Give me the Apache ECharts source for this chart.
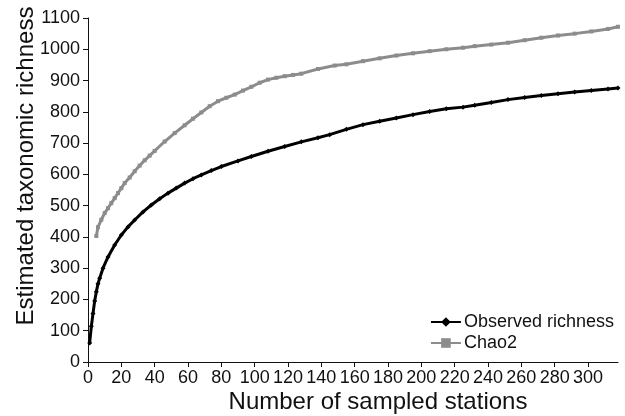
<!DOCTYPE html>
<html>
<head>
<meta charset="utf-8">
<title>Taxonomic richness</title>
<script src="https://cdn.jsdelivr.net/npm/echarts@6/dist/echarts.min.js"></script>
<style>
  html, body { margin: 0; padding: 0; background: #fff; }
  #main { width: 625px; height: 416px; }
</style>
</head>
<body>
<div id="main"></div>
<script>
// stations / values
var obsX = [1,2,3,4,5,6,7,9,12,16,20,24,28,33,38,43,48,53,58,63,68,74,80,90,98,108,118,128,138,145,155,165,175,185,195,205,215,225,232,242,252,262,272,282,292,302,312,318];
var obsY = [61,114,155,195,225,250,268,300,336,374,406,432,454,480,502,522,540,556,572,586,598,612,625,643,657,674,689,704,717,727,744,759,770,780,791,801,810,815,821,830,839,846,852,858,863,868,873,876];

var chaoX = [5,6,8,10,12,14,16,18,20,22,25,28,31,34,37,40,46,52,58,63,68,73,78,83,88,93,98,103,108,113,118,123,128,138,148,155,165,175,185,195,205,215,225,232,242,252,262,272,282,292,302,312,318];
var chaoY = [403,431,455,476,492,508,524,540,556,572,590,610,628,645,660,675,705,732,757,778,798,818,834,845,855,868,880,893,903,909,914,918,922,937,948,952,962,971,980,987,994,1000,1005,1010,1015,1021,1029,1037,1044,1050,1057,1065,1072];

var xTicks = [0,20,40,60,80,100,120,140,160,180,200,220,240,260,280,300];

function pairs(xs, ys) {
  var out = [];
  for (var i = 0; i < xs.length; i++) out.push([xs[i], ys[i]]);
  return out;
}

var font = 'Liberation Sans, Arial, Helvetica, sans-serif';
var chart = echarts.init(document.getElementById('main'));

var option = {
  animation: false,
  textStyle: { fontFamily: font },
  grid: { left: 88, right: 7, top: 18, bottom: 54, containLabel: false, outerBoundsMode: 'none' },
  legend: {
    orient: 'vertical',
    right: 6,
    top: 308,
    itemGap: 3,
    itemWidth: 30,
    itemHeight: 12,
    textStyle: { fontFamily: font, fontSize: 18, color: '#111', padding: [0, 0, 0, -2] },
    data: ['Observed richness', 'Chao2']
  },
  xAxis: {
    type: 'value',
    min: 0,
    max: 318,
    name: 'Number of sampled stations',
    nameLocation: 'middle',
    nameGap: 28,
    nameMoveOverlap: false,
    nameTextStyle: { fontFamily: font, fontSize: 24, color: '#111', padding: [0, 0, 0, 50] },
    axisLine: { lineStyle: { color: '#111', width: 1 } },
    axisTick: { show: true, length: 5, customValues: xTicks, lineStyle: { color: '#111' } },
    axisLabel: { customValues: xTicks, fontFamily: font, fontSize: 18, color: '#111', margin: 7 },
    splitLine: { show: false }
  },
  yAxis: {
    type: 'value',
    min: 0,
    max: 1100,
    interval: 100,
    name: 'Estimated taxonomic richness',
    nameLocation: 'middle',
    nameGap: 50,
    nameMoveOverlap: false,
    nameTextStyle: { fontFamily: font, fontSize: 24, color: '#111', padding: [0, 0, 0, 48] },
    axisLine: { show: true, lineStyle: { color: '#111', width: 1 } },
    axisTick: { show: true, length: 5, lineStyle: { color: '#111' } },
    axisLabel: {
      fontFamily: font, fontSize: 18, color: '#111', margin: 8,
      formatter: function (v) { return String(v); }
    },
    splitLine: { show: false }
  },
  series: [
    {
      name: 'Chao2',
      type: 'line',
      data: pairs(chaoX, chaoY),
      symbol: 'rect',
      symbolSize: 4,
      showSymbol: true,
      lineStyle: { color: '#8c8c8c', width: 3 },
      itemStyle: { color: '#8c8c8c' }
    },
    {
      name: 'Observed richness',
      type: 'line',
      data: pairs(obsX, obsY),
      symbol: 'diamond',
      symbolSize: 5,
      showSymbol: true,
      lineStyle: { color: '#000', width: 3 },
      itemStyle: { color: '#000' }
    }
  ]
};

chart.setOption(option);
</script>
</body>
</html>
